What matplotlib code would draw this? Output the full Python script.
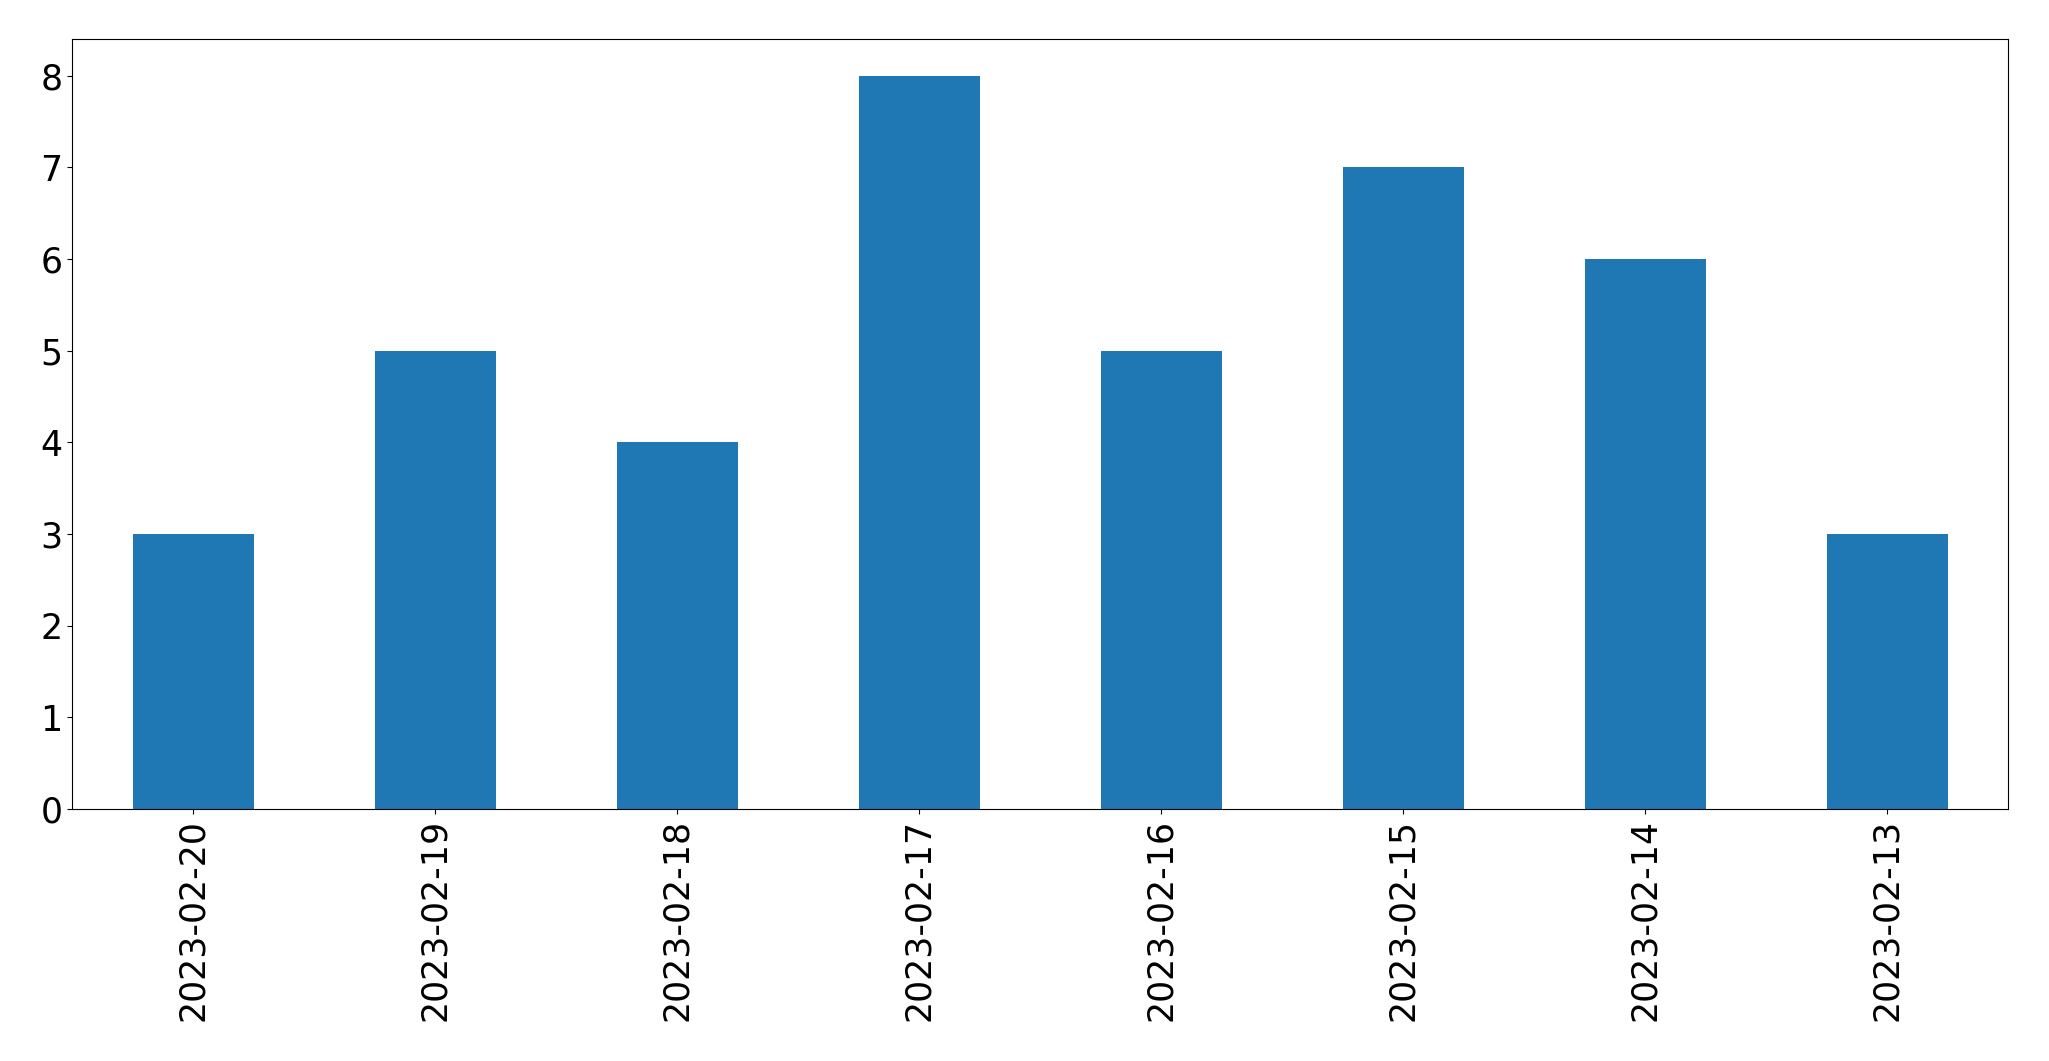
import matplotlib
matplotlib.use("Agg")
import matplotlib.pyplot as plt
import pandas as pd

dates = ["2023-02-20", "2023-02-19", "2023-02-18", "2023-02-17",
         "2023-02-16", "2023-02-15", "2023-02-14", "2023-02-13"]
counts = [3, 5, 4, 8, 5, 7, 6, 3]

series = pd.Series(counts, index=dates)

fig, ax = plt.subplots(figsize=(20.49, 10.61), dpi=100)
series.plot(kind="bar", ax=ax, color="#1f77b4", width=0.5)
ax.tick_params(axis="both", labelsize=25)
ax.set_xlabel("")
fig.subplots_adjust(left=72 / 2049, right=2008 / 2049,
                    top=1 - 39 / 1061, bottom=1 - 809 / 1061)
fig.savefig("out.png", dpi=100)
plt.close(fig)
